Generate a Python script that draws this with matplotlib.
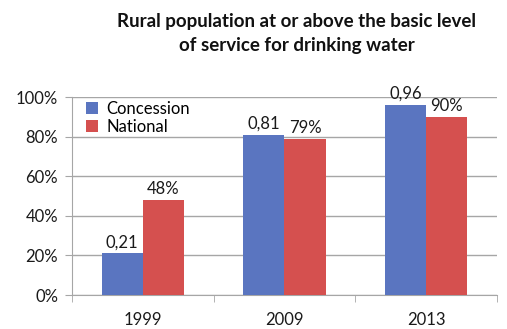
import numpy as np
import matplotlib.pyplot as plt

years = ['1999', '2009', '2013']
concession = [0.21, 0.81, 0.96]
national = [0.48, 0.79, 0.90]
concession_labels = ['0,21', '0,81', '0,96']
national_labels = ['48%', '79%', '90%']
yticks = [0, 0.2, 0.4, 0.6, 0.8, 1.0]
ytick_labels = ['0%', '20%', '40%', '60%', '80%', '100%']

plt.rcParams['font.family'] = ['Lato', 'DejaVu Sans']

blue = '#5A75C0'
red = '#D5504F'
grid = '#A6A6A6'
txt = '#1a1a1a'

fig = plt.figure(figsize=(5.07, 3.29), dpi=100)
ax = fig.add_axes([72 / 507, 34 / 329, 425 / 507, 198 / 329])

x = np.arange(len(years))
w = 0.29
b1 = ax.bar(x - w / 2, concession, w, color=blue, label='Concession', zorder=3)
b2 = ax.bar(x + w / 2, national, w, color=red, label='National', zorder=3)

for rect, lab in zip(b1, concession_labels):
    ax.text(rect.get_x() + rect.get_width() / 2, rect.get_height() + 0.015, lab,
            ha='center', va='bottom', fontsize=12, color=txt, clip_on=False)
for rect, lab in zip(b2, national_labels):
    ax.text(rect.get_x() + rect.get_width() / 2, rect.get_height() + 0.015, lab,
            ha='center', va='bottom', fontsize=12, color=txt, clip_on=False)

ax.set_xlim(-0.5, 2.5)
ax.set_ylim(0, 1.0)
ax.set_yticks(yticks)
ax.set_yticklabels(ytick_labels, fontsize=12, color=txt)
ax.set_xticks(x)
ax.set_xticklabels(years, fontsize=12, color=txt)
ax.tick_params(axis='x', length=0, pad=12)
ax.set_xticks([-0.5, 0.5, 1.5, 2.5], minor=True)
ax.tick_params(axis='x', which='minor', length=5, color=grid, direction='out')
ax.tick_params(axis='y', length=5, color=grid, direction='out', pad=5)

ax.grid(axis='y', color=grid, linewidth=1, zorder=0)
for s in ['top', 'right']:
    ax.spines[s].set_visible(False)
ax.spines['left'].set_color(grid)
ax.spines['bottom'].set_color(grid)

ax.legend(loc='upper left', bbox_to_anchor=(0.01, 1.03), frameon=False, fontsize=12,
          handlelength=0.7, handleheight=0.7, handletextpad=0.5, labelspacing=0.1,
          borderaxespad=0.2)

fig.text(0.585, 0.96, 'Rural population at or above the basic level\nof service for drinking water',
         ha='center', va='top', fontsize=13.5, fontweight='bold', color='#111111',
         linespacing=1.5)

plt.savefig('out.png', dpi=100)
plt.close()
